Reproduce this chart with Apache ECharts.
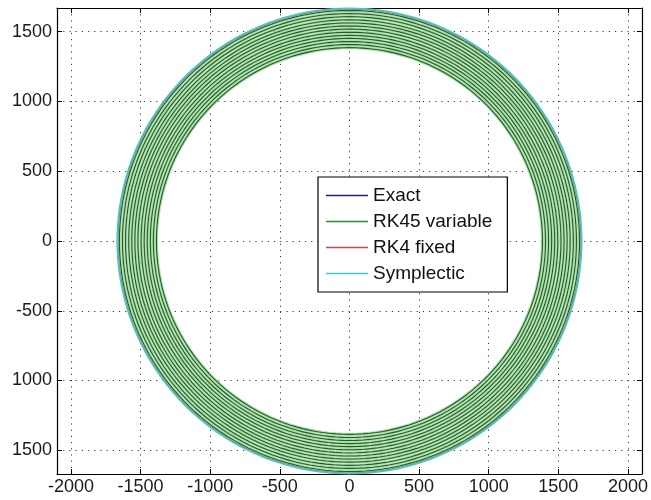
<!DOCTYPE html>
<html>
<head>
<meta charset="utf-8">
<script src="https://cdn.jsdelivr.net/npm/echarts@6/dist/echarts.min.js"></script>
<style>
  html, body { margin: 0; padding: 0; background: #ffffff; }
  #chart { width: 651px; height: 500px; }
</style>
</head>
<body>
<div id="chart"></div>
<script>
// Orbit trajectories (radius of each closed loop, in plot units)
const seriesNames = ['Exact', 'RK45 variable', 'RK4 fixed', 'Symplectic'];
const seriesColors = ['#1c1c8e', '#2e8b2e', '#d04848', '#46c8c8'];
const exactRadius = [1660];
const rk45Radii = [1652, 1630, 1608, 1585, 1563, 1541, 1519, 1496, 1474, 1452, 1430, 1408, 1386];
const rk4Radius = [1663];
const symplecticRadius = [1667];

// Axis ticks and their printed labels
const xTicks = [-2000, -1500, -1000, -500, 0, 500, 1000, 1500, 2000];
const xTickLabels = ['-2000', '-1500', '-1000', '-500', '0', '500', '1000', '1500', '2000'];
const yTicks = [-1500, -1000, -500, 0, 500, 1000, 1500];
const yTickLabels = ['1500', '1000', '-500', '0', '500', '1000', '1500'];

const xRange = [-2100, 2100];
const yRange = [-1670, 1670];

const FONT = "'Liberation Sans', Arial, sans-serif";

// closed loop of a given radius, sampled every 2 degrees
function loop(r) {
  const pts = [];
  for (let deg = 0; deg <= 360; deg += 2) {
    const a = deg * Math.PI / 180;
    pts.push([r * Math.cos(a), r * Math.sin(a)]);
  }
  return pts;
}

function lineSeries(name, data, color, width, z) {
  return {
    type: 'line', name: name, data: data, symbol: 'none', silent: true,
    lineStyle: { color: color, width: width }, itemStyle: { color: color },
    z: z, animation: false
  };
}

const series = [];
series.push(lineSeries(seriesNames[0], loop(exactRadius[0]), seriesColors[0], 1.2, 2));
// light band under each RK45 loop, then the loop outline on top
rk45Radii.forEach(r => series.push(lineSeries('rk45-band', loop(r), '#a9dfa9', 3.2, 3)));
rk45Radii.forEach(r => {
  const s = lineSeries(seriesNames[1], loop(r), '#275a2c', 1.1, 4);
  s.itemStyle.color = seriesColors[1];
  series.push(s);
});
series.push(lineSeries(seriesNames[2], loop(rk4Radius[0]), seriesColors[2], 1.2, 5));
series.push(lineSeries(seriesNames[3], loop(symplecticRadius[0]), seriesColors[3], 1.8, 6));

function labelFor(ticks, labels) {
  return v => {
    const i = ticks.indexOf(Math.round(v));
    return i >= 0 ? labels[i] : '';
  };
}

const gridLine = { show: true, lineStyle: { color: '#3a3a3a', width: 1, type: [1.2, 5] } };
const axisLine = { show: true, onZero: false, lineStyle: { color: '#000', width: 1.2 } };
const tick = (vals) => ({ show: true, inside: true, length: 5, customValues: vals, lineStyle: { color: '#000', width: 1 } });

const chart = echarts.init(document.getElementById('chart'), null, { renderer: 'canvas' });
chart.setOption({
  animation: false,
  backgroundColor: '#ffffff',
  grid: { left: 57, top: 8, width: 586, height: 466, containLabel: false },
  xAxis: [
    {
      type: 'value', position: 'bottom', min: xRange[0], max: xRange[1],
      axisLine: axisLine, axisTick: tick(xTicks), splitLine: gridLine,
      axisLabel: {
        customValues: xTicks, formatter: labelFor(xTicks, xTickLabels),
        color: '#1a1a1a', fontFamily: FONT, fontSize: 18, margin: 4
      }
    },
    {
      type: 'value', position: 'top', min: xRange[0], max: xRange[1],
      axisLine: axisLine, axisTick: tick(xTicks), splitLine: { show: false },
      axisLabel: { show: false }
    }
  ],
  yAxis: [
    {
      type: 'value', position: 'left', min: yRange[0], max: yRange[1],
      axisLine: axisLine, axisTick: tick(yTicks), splitLine: gridLine,
      axisLabel: {
        customValues: yTicks, formatter: labelFor(yTicks, yTickLabels),
        color: '#1a1a1a', fontFamily: FONT, fontSize: 18, margin: 5
      }
    },
    {
      type: 'value', position: 'right', min: yRange[0], max: yRange[1],
      axisLine: axisLine, axisTick: tick(yTicks), splitLine: { show: false },
      axisLabel: { show: false }
    }
  ],
  legend: {
    show: true,
    left: 318, top: 177, orient: 'vertical',
    padding: [8, 15, 8, 8],
    icon: 'rect',
    itemWidth: 42, itemHeight: 1.5, itemGap: 5,
    backgroundColor: '#ffffff', borderColor: '#000', borderWidth: 1.2,
    selectedMode: false,
    textStyle: { fontFamily: FONT, fontSize: 19, color: '#111', lineHeight: 21 },
    data: seriesNames
  },
  series: series
});
</script>
</body>
</html>
